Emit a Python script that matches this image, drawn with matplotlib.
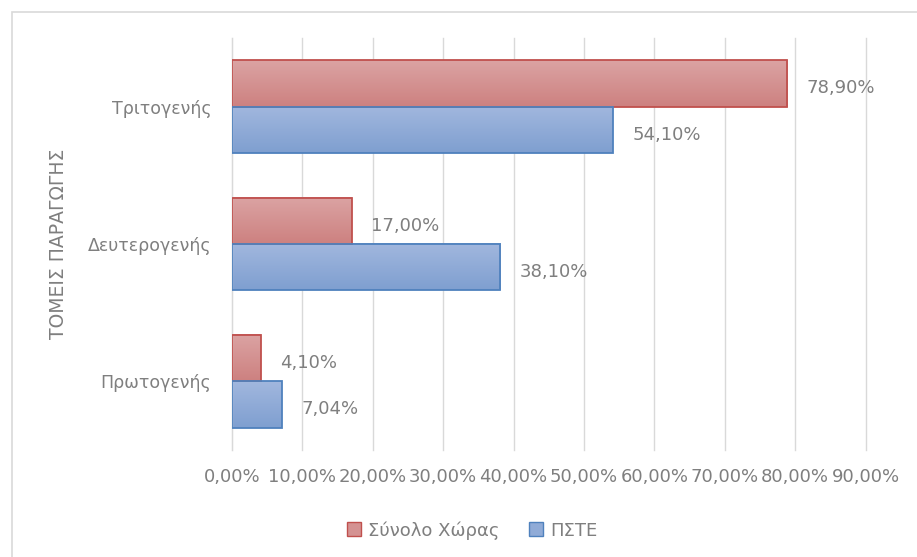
import numpy as np
import matplotlib.pyplot as plt
from matplotlib.patches import Rectangle
from matplotlib.colors import LinearSegmentedColormap

# data
sectors = ['Πρωτογενής', 'Δευτερογενής', 'Τριτογενής']
country = [4.10, 17.00, 78.90]   # Σύνολο Χώρας
pste = [7.04, 38.10, 54.10]      # ΠΣΤΕ
xticks = np.arange(0, 100, 10)

plt.rcParams['font.family'] = ['DejaVu Sans']
grey = '#7f7f7f'

fig = plt.figure(figsize=(9.17, 5.57), dpi=100)
ax = fig.add_axes([0.253, 0.192, 0.691, 0.740])

# outer chart border
fig.patches.append(Rectangle((12 / 917, -0.01), 1, 1 - 12 / 557 + 0.01,
                             transform=fig.transFigure, fill=False,
                             edgecolor='#d9d9d9', linewidth=1.2))

y = np.arange(len(sectors))
h = 0.336
b1 = ax.barh(y + h / 2, country, height=h, color='none', edgecolor='#c0504d',
             linewidth=1.3, label='Σύνολο Χώρας', zorder=3)
b2 = ax.barh(y - h / 2, pste, height=h, color='none', edgecolor='#4f81bd',
             linewidth=1.3, label='ΠΣΤΕ', zorder=3)

# gradient fills
red_cm = LinearSegmentedColormap.from_list('r', ['#dba3a3', '#cd8180'])
blue_cm = LinearSegmentedColormap.from_list('b', ['#a1b7de', '#7f9fd0'])
grad = np.linspace(0, 1, 64).reshape(-1, 1)
for bars, cm in ((b1, red_cm), (b2, blue_cm)):
    for p in bars:
        x0, y0 = p.get_x(), p.get_y()
        ax.imshow(grad, cmap=cm, aspect='auto', origin='lower',
                  extent=(x0, x0 + p.get_width(), y0 + p.get_height(), y0),
                  zorder=2)

def fmt(v):
    return f'{v:.2f}'.replace('.', ',') + '%'

for bars, vals in ((b1, country), (b2, pste)):
    for p, v in zip(bars, vals):
        ax.annotate(fmt(v), (p.get_width(), p.get_y() + p.get_height() / 2),
                    xytext=(14, -3.5), textcoords='offset points', va='center',
                    ha='left', color=grey, fontsize=13)

ax.set_xlim(0, 90)
ax.set_ylim(-0.5, 2.5)
ax.set_xticks(xticks)
ax.set_xticklabels([fmt(v) for v in xticks], color=grey, fontsize=13)
ax.set_yticks(y)
ax.set_yticklabels(sectors, color=grey, fontsize=12.5)
ax.tick_params(length=0, pad=13)
ax.tick_params(axis='y', pad=15)
ax.grid(axis='x', color='#d9d9d9', linewidth=1, zorder=0)
for gl in ax.get_xgridlines():
    gl.set_clip_on(False)
ax.set_axisbelow(True)
for s in ('top', 'right', 'bottom'):
    ax.spines[s].set_visible(False)
ax.spines['left'].set_color('#d9d9d9')
ax.set_ylabel('ΤΟΜΕΙΣ ΠΑΡΑΓΩΓΗΣ', color=grey, fontsize=13.5, labelpad=14)

handles = [Rectangle((0, 0), 1, 1, facecolor='#d49292', edgecolor='#c0504d'),
           Rectangle((0, 0), 1, 1, facecolor='#90abd7', edgecolor='#4f81bd')]
fig.legend(handles, ['Σύνολο Χώρας', 'ΠΣΤΕ'], loc='center',
           bbox_to_anchor=(0.515, 0.048), ncol=2, frameon=False,
           handlelength=0.8, handleheight=0.8, handletextpad=0.4,
           columnspacing=1.6, labelcolor=grey, fontsize=13)

fig.savefig('out.png', dpi=100)
